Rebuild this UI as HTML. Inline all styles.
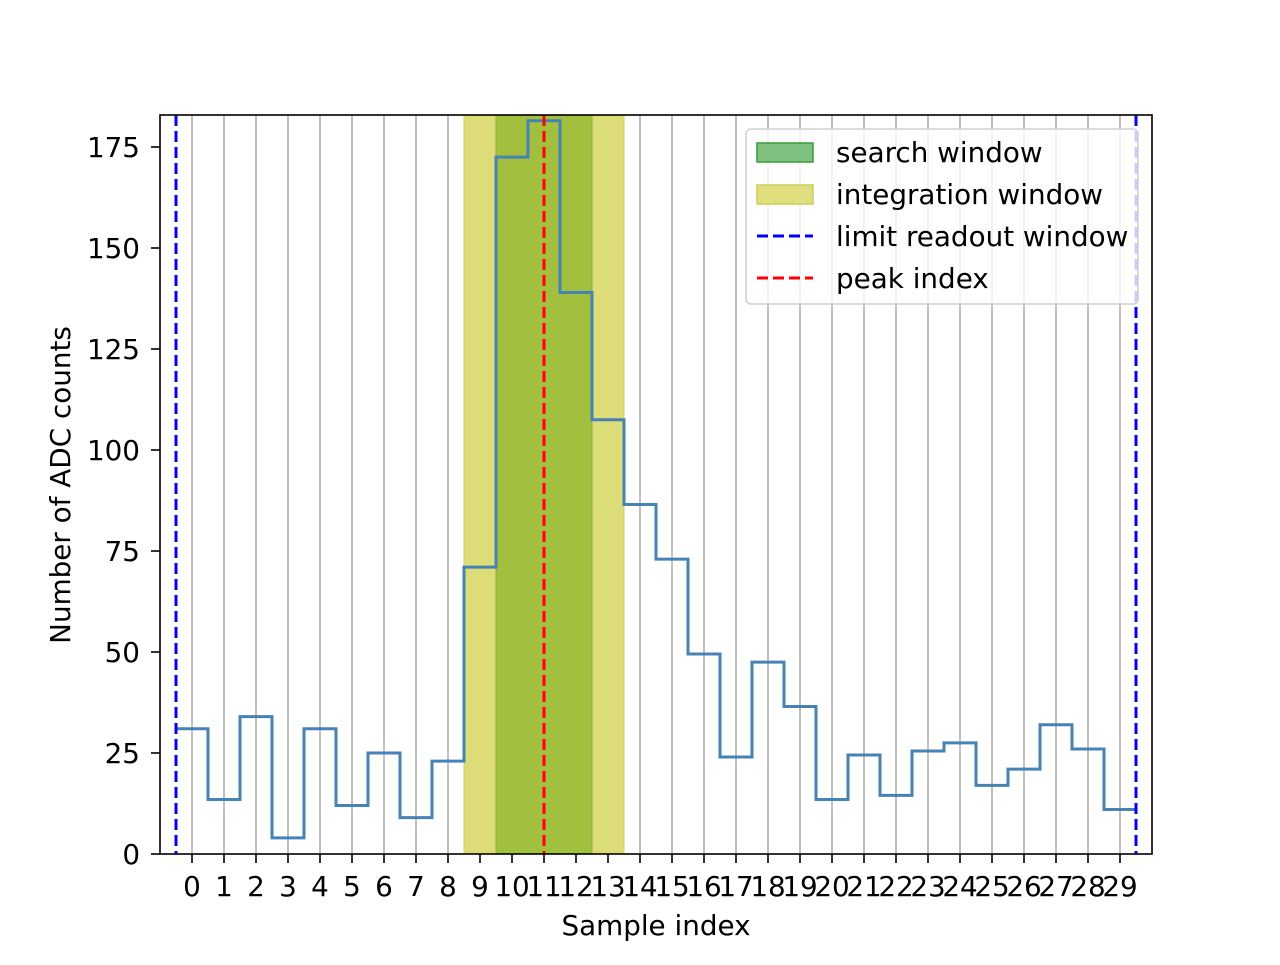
<!DOCTYPE html>
<html><head><meta charset="utf-8"><style>
body{margin:0;background:#fff}
text{font-family:"DejaVu Sans","Liberation Sans",sans-serif;font-size:27.8px;fill:#000}
</style></head><body>
<svg id="chart" width="1280" height="960" xmlns="http://www.w3.org/2000/svg">
<g id="plot"></g>
</svg>
<script>
const categories=[0,1,2,3,4,5,6,7,8,9,10,11,12,13,14,15,16,17,18,19,20,21,22,23,24,25,26,27,28,29];
const adcValues=[31,13.5,34,4,31,12,25,9,23,71,172.5,181.5,139,107.5,86.5,73,49.5,24,47.5,36.5,13.5,24.5,14.5,25.5,27.5,17,21,32,26,11];
const yTicks=[0,25,50,75,100,125,150,175];
const searchWindow=[9.5,12.5];
const integrationWindow=[8.5,13.5];
const readoutLimits=[-0.5,29.5];
const peakIndex=[11];
const L=160,R=1152,T=115,B=854;
const xs=v=>L+(v+1)*(R-L)/31;
const ys=v=>B-v*(B-147)/175;
const g=document.getElementById('plot');
const NS='http://www.w3.org/2000/svg';
function mk(tag,attrs,name,parent){const e=document.createElementNS(NS,tag);for(const k in attrs)e.setAttribute(k,attrs[k]);


(parent||g).appendChild(e);return e;}
categories.forEach(c=>{mk('line',{x1:xs(c),x2:xs(c),y1:T,y2:B,stroke:'#b0b0b0','stroke-width':1.6},'grid-line');});
mk('rect',{x:xs(integrationWindow[0]),y:T,width:xs(integrationWindow[1])-xs(integrationWindow[0]),height:B-T,fill:'#dcdc78',stroke:'#cfcf60'},'integration-window');
mk('rect',{x:xs(searchWindow[0]),y:T,width:xs(searchWindow[1])-xs(searchWindow[0]),height:B-T,fill:'#a2c03e',stroke:'#88b040'},'search-window');
let d='';
adcValues.forEach((v,i)=>{const x0=xs(categories[i]-0.5),x1=xs(categories[i]+0.5),y=ys(v);d+=(i?'L':'M')+x0+','+y+'L'+x1+','+y;});
mk('path',{d:d,fill:'none',stroke:'#4682b4','stroke-width':3},'adc-step-line');
readoutLimits.forEach(v=>mk('line',{x1:xs(v),x2:xs(v),y1:T,y2:B,stroke:'#0000ff','stroke-width':3,'stroke-dasharray':'11,5'},'readout-limit-line'));
peakIndex.forEach(v=>mk('line',{x1:xs(v),x2:xs(v),y1:T,y2:B,stroke:'#ff0000','stroke-width':3,'stroke-dasharray':'11,5'},'peak-index-line'));
mk('rect',{x:L,y:T,width:R-L,height:B-T,fill:'none',stroke:'#000','stroke-width':1.6},'axes-frame');
categories.forEach(c=>{const x=xs(c);mk('line',{x1:x,x2:x,y1:B,y2:B+9,stroke:'#000','stroke-width':1.6},'x-tick');
const t=mk('text',{x:x,y:B+42,'text-anchor':'middle'},'x-tick-label');t.textContent=c;});
yTicks.forEach(v=>{const y=ys(v);mk('line',{x1:L-9,x2:L,y1:y,y2:y,stroke:'#000','stroke-width':1.6},'y-tick');
const t=mk('text',{x:L-20,y:y+10,'text-anchor':'end'},'y-tick-label');t.textContent=v;});
let t=mk('text',{x:656,y:935,'text-anchor':'middle'},'x-axis-title');t.textContent='Sample index';
t=mk('text',{x:70,y:485,'text-anchor':'middle',transform:'rotate(-90 70 485)'},'y-axis-title');t.textContent='Number of ADC counts';
const lg=mk('g',{},'legend');
mk('rect',{x:746,y:129,width:392,height:175,rx:5,fill:'#fff','fill-opacity':0.8,stroke:'#d0d0d0','stroke-width':1.6},'legend-box',lg);
mk('rect',{x:757,y:143,width:56,height:19,fill:'#80c080',stroke:'#40a040','stroke-width':1.6},'legend-swatch-search',lg);
mk('rect',{x:757,y:185,width:56,height:19,fill:'#dfdf80',stroke:'#cfcf60','stroke-width':1.6},'legend-swatch-integration',lg);
mk('line',{x1:757,x2:813,y1:236,y2:236,stroke:'#0000ff','stroke-width':3,'stroke-dasharray':'11,5'},'legend-swatch-limit',lg);
mk('line',{x1:757,x2:813,y1:278,y2:278,stroke:'#ff0000','stroke-width':3,'stroke-dasharray':'11,5'},'legend-swatch-peak',lg);
[['search window',162],['integration window',204],['limit readout window',246],['peak index',288]].forEach(a=>{
const e=mk('text',{x:836,y:a[1]},'legend-entry',lg);e.textContent=a[0];});
</script>
</body></html>
